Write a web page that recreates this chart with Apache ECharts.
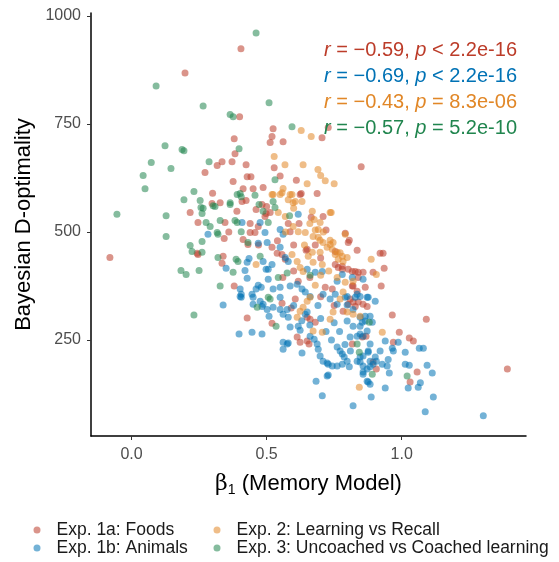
<!DOCTYPE html>
<html>
<head>
<meta charset="utf-8">
<script src="https://cdn.jsdelivr.net/npm/echarts@6/dist/echarts.min.js"></script>
<style>
  html, body { margin: 0; padding: 0; background: #fff; }
  #chart { width: 559px; height: 562px; }
</style>
</head>
<body>
<div id="chart"></div>
<script>
// 各实验的数据点 [beta1, D-optimality]
const foods = [
  [0.405,924],[0.198,868],[0.40,767],[0.524,739],[0.52,721],[0.513,707],[0.38,716],[0.383,681],
  [0.335,663],[0.317,654],[0.372,663],[0.424,656],[0.272,638],[0.428,628],[0.442,628],[0.376,617],
  [0.487,603],[0.413,600],[0.298,566],[0.328,568],[0.424,573],[0.217,545],[0.39,548],[0.461,552],
  [0.50,559],[0.705,718],[0.728,742],[0.561,709],[0.85,651],[0.628,589],[0.687,589],[0.709,536],
  [0.528,649],[0.624,587],[0.409,571],[0.498,543],[0.483,564],[0.246,522],[0.346,522],[0.439,520],
  [0.343,485],[0.439,499],[0.457,499],[0.469,513],[0.413,483],[0.431,471],[0.243,451],[0.246,448],
  [0.339,444],[0.335,428],[0.380,375],[-0.08,441],[0.428,301],[0.52,289],[0.613,257],[0.65,248],
  [0.657,241],[0.624,245],[0.591,324],[0.606,345],[0.557,335],[0.65,303],[0.661,298],[0.68,291],
  [0.783,317],[0.802,333],[0.82,338],[0.839,338],[0.857,333],[0.872,328],[0.854,257],[0.817,241],
  [0.965,308],[1.091,298],[0.991,268],[1.028,255],[1.043,248],[0.969,245],[0.868,259],[0.894,199],
  [0.906,183],[1.057,176],[1.031,153],[1.391,183],[0.92,451],[0.931,451],[0.935,416],[0.924,375],
  [0.806,481],[0.835,458],[0.754,455],[0.646,458],[0.765,418],[0.78,414],[0.817,409],[0.839,407],
  [0.839,395],[0.82,375],[0.809,345],[0.828,328],[0.513,545],[0.494,536],[0.665,534],[0.587,501],
  [0.65,460],[0.791,497],[0.802,476],[0.52,465],[0.539,451],[0.557,448],[0.569,437],[0.754,425],
  [0.78,421],[0.802,414],[0.828,409],[0.857,407],[0.894,407],[0.817,375],[0.865,372],[0.835,363],
  [0.617,386],[0.717,372],[0.743,368],[0.58,520],[0.6,470],[0.62,520],[0.54,480],[0.68,470],
  [0.7,440],[0.72,505],[0.6,410],[0.66,395],[0.7,350],[0.75,330],[0.56,395],[0.47,470],
  [0.36,500],[0.3,590],[0.45,600],[0.55,630],[0.61,620]
];
const animals = [
  [0.409,522],[0.283,495],[0.476,522],[0.494,499],[0.469,474],[0.502,476],[0.35,416],[0.435,439],
  [0.428,430],[0.487,432],[0.498,414],[0.42,411],[0.428,393],[0.469,377],[0.461,368],[0.48,372],
  [0.402,368],[0.406,356],[0.446,356],[0.339,331],[0.398,264],[0.446,268],[0.483,264],[0.561,229],
  [0.576,241],[0.631,220],[0.683,155],[0.706,121],[0.724,167],[0.728,194],[0.55,321],[0.561,310],
  [0.58,303],[0.502,321],[0.487,333],[0.406,349],[0.45,349],[0.509,305],[0.576,321],[0.587,280],
  [0.561,245],[0.58,243],[0.617,282],[0.624,273],[0.643,310],[0.65,315],[0.661,259],[0.676,252],
  [0.687,241],[0.691,229],[0.698,213],[0.709,201],[0.724,197],[0.728,169],[0.82,98],[0.761,234],
  [0.772,225],[0.78,218],[0.787,211],[0.798,201],[0.743,190],[0.761,190],[0.78,194],[0.806,188],
  [0.835,201],[0.846,211],[0.857,190],[0.872,183],[0.857,171],[0.872,155],[0.872,271],[0.846,282],
  [0.55,349],[0.524,326],[0.483,328],[0.476,340],[0.45,333],[0.402,351],[0.735,345],[0.761,333],
  [0.798,351],[0.828,349],[0.846,351],[0.872,349],[0.798,294],[0.82,282],[0.846,303],[0.865,294],
  [0.809,257],[0.835,259],[0.883,241],[0.876,225],[0.883,201],[0.854,291],[0.883,305],[0.891,291],
  [0.939,248],[0.987,245],[0.965,231],[0.969,225],[1.013,222],[1.065,231],[1.08,231],[0.846,264],
  [0.857,259],[0.857,213],[0.876,222],[0.902,211],[0.906,201],[0.894,194],[0.883,188],[0.857,176],
  [0.846,199],[0.928,194],[0.946,190],[0.954,174],[1.013,194],[1.028,192],[1.094,192],[1.113,174],
  [1.069,151],[1.061,141],[1.024,139],[0.939,139],[0.876,153],[0.883,148],[0.887,118],[1.117,118],
  [1.087,84],[1.302,75],[0.617,541],[0.55,506],[0.561,495],[0.506,414],[0.52,425],[0.506,391],
  [0.569,441],[0.58,432],[0.55,465],[0.65,414],[0.68,407],[0.706,409],[0.78,402],[0.817,395],
  [0.857,391],[0.524,368],[0.55,372],[0.587,375],[0.613,379],[0.631,368],[0.643,361],[0.661,351],
  [0.709,356],[0.754,356],[0.791,349],[0.761,386],[0.835,356],[0.876,349],[0.902,340],[0.798,331],
  [0.82,321],[0.865,305],[0.7,300],[0.72,270],[0.74,250],[0.69,330],[0.75,290],[0.77,270],
  [0.6,330],[0.63,295],[0.66,285],[0.79,240],[0.81,225],[0.92,225],[0.95,205]
];
const learning = [
  [0.528,675],[0.524,587],[0.628,735],[0.665,721],[0.568,656],[0.635,656],[0.69,645],[0.70,631],
  [0.717,619],[0.75,612],[0.65,612],[0.561,601],[0.55,587],[0.594,587],[0.606,571],[0.631,571],
  [0.669,548],[0.735,545],[0.52,587],[0.557,591],[0.587,587],[0.58,575],[0.598,568],[0.543,545],
  [0.569,536],[0.676,529],[0.698,522],[0.691,506],[0.739,545],[0.598,513],[0.617,501],[0.643,499],
  [0.672,490],[0.691,488],[0.709,476],[0.735,471],[0.743,460],[0.724,465],[0.754,448],[0.78,444],
  [0.798,441],[0.765,437],[0.783,432],[0.887,437],[0.906,402],[0.594,448],[0.613,432],[0.624,418],
  [0.635,409],[0.654,444],[0.672,430],[0.706,425],[0.761,395],[0.791,384],[0.68,377],[0.791,495],
  [0.772,452],[0.761,453],[0.735,481],[0.746,476],[0.698,481],[0.669,453],[0.698,453],[0.82,386],
  [0.783,361],[0.772,345],[0.706,268],[0.672,271],[0.613,303],[0.624,317],[0.635,326],[0.65,340],
  [0.661,349],[0.735,298],[0.746,315],[0.798,315],[0.82,310],[0.846,305],[0.843,141],[0.928,268],
  [0.461,425],[0.66,520],[0.68,505],[0.71,500],[0.64,470],[0.7,400],[0.73,410],[0.6,555],
  [0.57,500]
];
const coached = [
  [0.461,961],[0.091,838],[0.265,792],[0.509,799],[0.365,772],[0.376,767],[0.594,744],[0.124,700],
  [0.187,691],[0.194,688],[0.398,693],[0.073,661],[0.287,663],[0.146,647],[0.043,631],[0.531,621],
  [0.05,600],[0.231,594],[0.402,589],[0.457,585],[0.194,575],[0.254,573],[0.365,568],[-0.054,541],
  [0.128,538],[0.257,557],[0.302,561],[0.309,559],[0.365,564],[0.406,582],[0.261,543],[0.265,555],
  [0.472,564],[0.487,548],[0.276,522],[0.328,527],[0.383,527],[0.391,522],[0.291,513],[0.317,499],
  [0.32,495],[0.128,490],[0.261,478],[0.406,501],[0.431,476],[0.217,469],[0.224,455],[0.261,453],
  [0.32,441],[0.387,437],[0.394,432],[0.476,444],[0.183,411],[0.202,402],[0.25,411],[0.376,407],
  [0.328,375],[0.231,308],[0.535,282],[0.506,349],[0.513,345],[0.465,326],[0.835,241],[0.843,222],
  [0.88,291],[1.02,167],[0.891,171],[0.524,571],[0.531,557],[0.506,522],[0.585,538],[0.543,395],
  [0.576,405],[0.661,400],[0.391,587]
];

const seriesNames = ['Exp. 1a: Foods', 'Exp. 1b: Animals', 'Exp. 2: Learning vs Recall', 'Exp. 3: Uncoached vs Coached learning'];
const seriesColors = ['#BC3C29', '#0072B5', '#E18727', '#20854E'];
const statLabels = [
  ['\u22120.59', '<', '2.2e-16'],
  ['\u22120.69', '<', '2.2e-16'],
  ['\u22120.43', '=', '8.3e-06'],
  ['\u22120.57', '=', '5.2e-10']
];
const xTicks = [0, 0.5, 1.0];
const yTicks = [250, 500, 750, 1000];

const font = '"Liberation Sans", Arial, sans-serif';
const allData = [foods, animals, learning, coached];

let chart = echarts.init(document.getElementById('chart'));

let series = allData.map(function (d, i) {
    return {
        name: seriesNames[i],
        type: 'scatter',
        data: d,
        symbol: 'circle',
        symbolSize: 7,
        itemStyle: { color: seriesColors[i], opacity: 0.55 },
        emphasis: { disabled: true },
        z: 2 + i
    };
});

// r, p 注释
let graphics = statLabels.map(function (s, i) {
    return {
        type: 'text',
        right: 42,
        top: 40 + i * 26,
        style: {
            text: '{i|r} = ' + s[0] + ', {i|p} ' + s[1] + ' ' + s[2],
            font: '20px ' + font,
            fill: seriesColors[i],
            rich: {
                i: { fontStyle: 'italic', fontSize: 20, fontFamily: font, fill: seriesColors[i] }
            }
        },
        z: 10
    };
});

let legendBase = {
    orient: 'vertical',
    icon: 'circle',
    itemWidth: 7,
    itemHeight: 7,
    itemGap: 0,
    height: 60,
    textStyle: { fontSize: 17.5, color: '#1a1a1a', fontFamily: font, padding: [0, 0, 0, 11] },
    itemStyle: { opacity: 0.55 },
    selectedMode: false
};

let option = {
    animation: false,
    backgroundColor: '#fff',
    grid: { left: 91, right: 33, top: 13, bottom: 126, containLabel: false, outerBoundsMode: 'none' },
    xAxis: {
        type: 'value',
        min: -0.15,
        max: 1.46,
        name: '{b|\u03b2}{s|1} (Memory Model)',
        nameLocation: 'middle',
        nameGap: 35,
        nameTextStyle: {
            fontSize: 22, color: '#000', fontFamily: font,
            rich: {
                b: { fontSize: 22, fontFamily: 'DejaVu Serif', color: '#000' },
                s: { fontSize: 14, fontFamily: font, color: '#000', verticalAlign: 'bottom', padding: [12, 0, 0, 0] }
            }
        },
        axisLine: { show: true, onZero: false, lineStyle: { color: '#000', width: 1.5 } },
        axisTick: { show: true, length: 4, customValues: xTicks, lineStyle: { color: '#333', width: 1 } },
        axisLabel: {
            customValues: xTicks, margin: 11, fontSize: 16, color: '#4d4d4d', fontFamily: font,
            formatter: function (v) { return v.toFixed(1); }
        },
        splitLine: { show: false }
    },
    yAxis: {
        type: 'value',
        min: 28,
        max: 1007,
        name: 'Bayesian D-optimality',
        nameLocation: 'middle',
        nameGap: 52,
        nameTextStyle: { fontSize: 22, color: '#000', fontFamily: font },
        axisLine: { show: true, onZero: false, lineStyle: { color: '#000', width: 1.5 } },
        axisTick: { show: true, length: 4, customValues: yTicks, lineStyle: { color: '#333', width: 1 } },
        axisLabel: {
            customValues: yTicks, margin: 10, fontSize: 16, color: '#4d4d4d', fontFamily: font,
            formatter: function (v) { return String(v); }
        },
        splitLine: { show: false }
    },
    legend: [
        Object.assign({}, legendBase, { left: 28.5, top: 516, data: [seriesNames[0], seriesNames[1]] }),
        Object.assign({}, legendBase, { left: 208.5, top: 516, data: [seriesNames[2], seriesNames[3]] })
    ],
    graphic: graphics,
    series: series
};

chart.setOption(option);
</script>
</body>
</html>
